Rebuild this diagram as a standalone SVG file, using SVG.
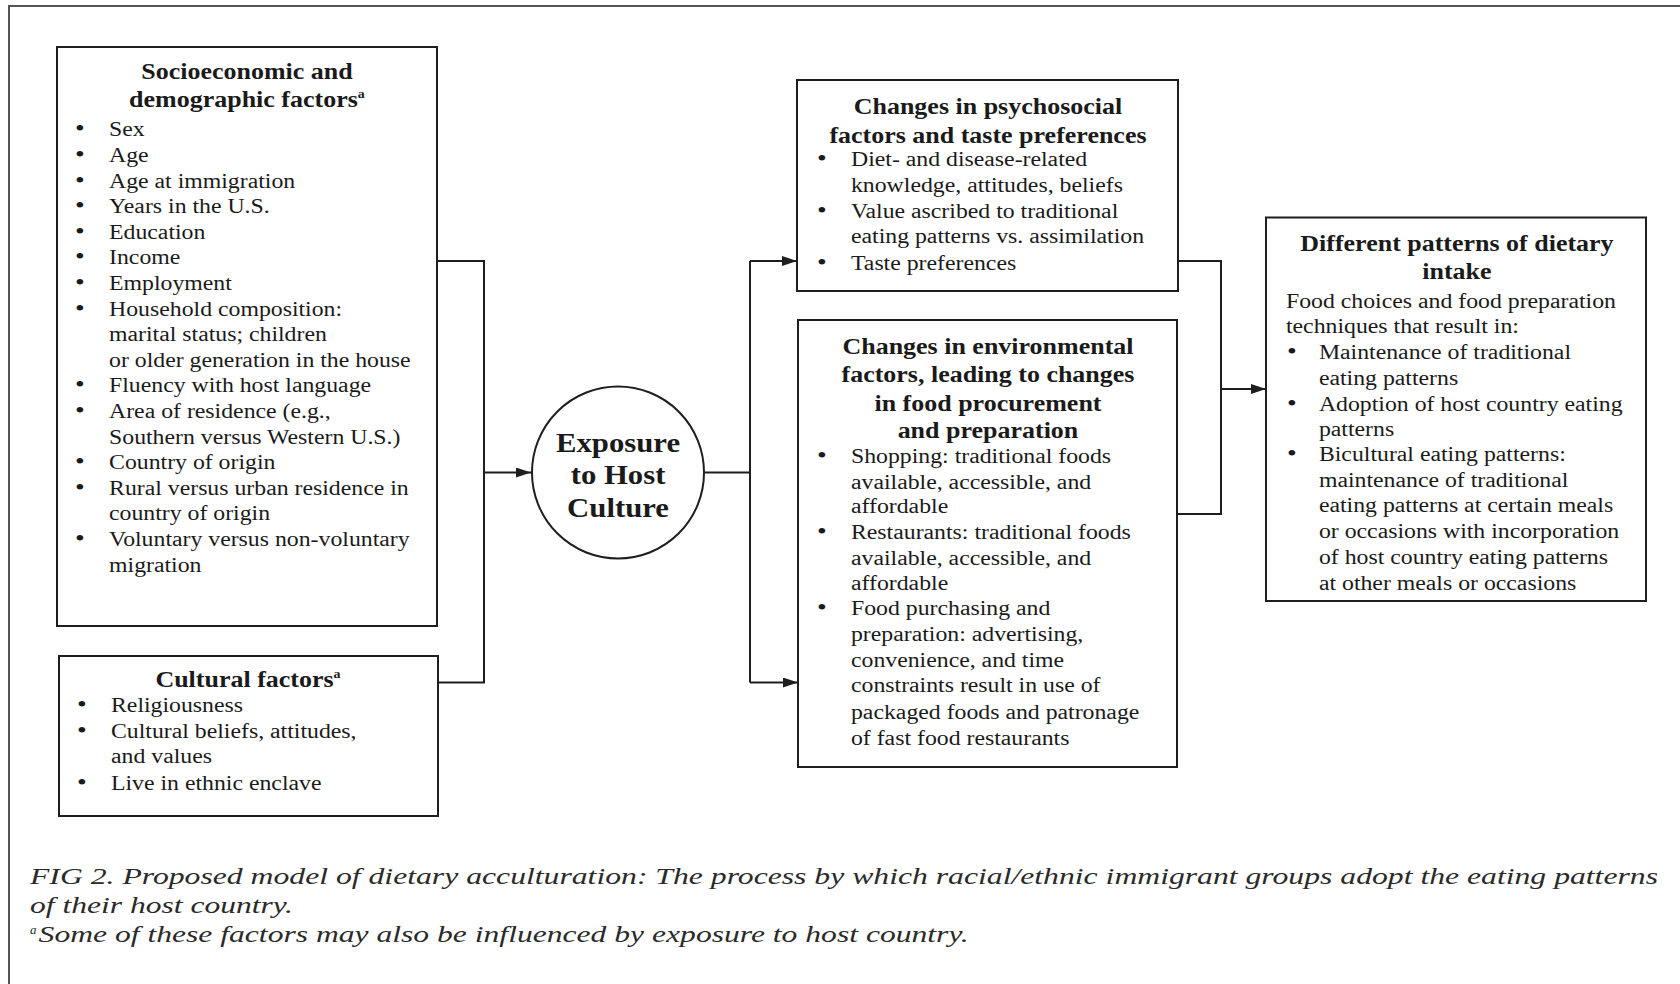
<svg xmlns="http://www.w3.org/2000/svg" width="1680" height="984" viewBox="0 0 1680 984">
<style>
.box{fill:#fff;stroke:#1e1e1e;stroke-width:2}
.t{font-family:"Liberation Serif","Times New Roman",serif;font-size:20.5px;fill:#1a1a1a}
.b{font-size:24px}
.h{font-family:"Liberation Serif","Times New Roman",serif;font-size:22.4px;font-weight:bold;fill:#1a1a1a;text-anchor:middle}
.c{font-family:"Liberation Serif","Times New Roman",serif;font-size:26.5px;font-weight:bold;fill:#1a1a1a;text-anchor:middle}
.cap{font-family:"Liberation Serif","Times New Roman",serif;font-style:italic;font-size:23px;fill:#2a2a2a}
.ln{fill:none;stroke:#1e1e1e;stroke-width:2}
</style>
<defs>
<marker id="ah" markerUnits="userSpaceOnUse" markerWidth="16" markerHeight="12" refX="15" refY="5" orient="auto">
<path d="M0,0 L15,5 L0,10 z" fill="#1e1e1e"/>
</marker>
</defs>
<rect width="1680" height="984" fill="#fff"/>
<rect x="9" y="6" width="1700" height="1000" fill="none" stroke="#555" stroke-width="2"/>

<g id="connectors">
<path class="ln" d="M437,261 H484 V682.5 H438"/>
<path class="ln" d="M484,472.5 H531" marker-end="url(#ah)"/>
<path class="ln" d="M704,472.5 H750"/>
<path class="ln" d="M750,261 V682.5"/>
<path class="ln" d="M750,261 H797" marker-end="url(#ah)"/>
<path class="ln" d="M750,682.5 H798" marker-end="url(#ah)"/>
<path class="ln" d="M1178,261 H1221 V514 H1177"/>
<path class="ln" d="M1221,389 H1266" marker-end="url(#ah)"/>
</g>

<g id="socio">
<rect class="box" x="57" y="47" width="380" height="579"/>
<g transform="translate(0,1.5) scale(1.16,1)">
<text class="h" x="212.9" y="78">Socioeconomic and</text>
<text class="h" x="212.9" y="106">demographic factors<tspan font-size="12" dy="-9">a</tspan></text>
<g class="t">
<text class="b" x="64.6" y="135">•</text><text x="94" y="135">Sex</text>
<text class="b" x="64.6" y="160.6">•</text><text x="94" y="160.6">Age</text>
<text class="b" x="64.6" y="186.2">•</text><text x="94" y="186.2">Age at immigration</text>
<text class="b" x="64.6" y="211.8">•</text><text x="94" y="211.8">Years in the U.S.</text>
<text class="b" x="64.6" y="237.4">•</text><text x="94" y="237.4">Education</text>
<text class="b" x="64.6" y="263">•</text><text x="94" y="263">Income</text>
<text class="b" x="64.6" y="288.6">•</text><text x="94" y="288.6">Employment</text>
<text class="b" x="64.6" y="314.2">•</text><text x="94" y="314.2">Household composition:</text>
<text x="94" y="339.8">marital status; children</text>
<text x="94" y="365.4">or older generation in the house</text>
<text class="b" x="64.6" y="391">•</text><text x="94" y="391">Fluency with host language</text>
<text class="b" x="64.6" y="416.6">•</text><text x="94" y="416.6">Area of residence (e.g.,</text>
<text x="94" y="442.2">Southern versus Western U.S.)</text>
<text class="b" x="64.6" y="467.8">•</text><text x="94" y="467.8">Country of origin</text>
<text class="b" x="64.6" y="493.4">•</text><text x="94" y="493.4">Rural versus urban residence in</text>
<text x="94" y="519">country of origin</text>
<text class="b" x="64.6" y="544.6">•</text><text x="94" y="544.6">Voluntary versus non-voluntary</text>
<text x="94" y="570.2">migration</text>
</g>
</g>
</g>

<g id="cultural">
<rect class="box" x="59" y="656" width="379" height="160"/>
<g transform="translate(0,1.5) scale(1.16,1)">
<text class="h" x="213.8" y="686">Cultural factors<tspan font-size="12" dy="-9">a</tspan></text>
<g class="t">
<text class="b" x="66.3" y="711">•</text><text x="95.7" y="711">Religiousness</text>
<text class="b" x="66.3" y="737">•</text><text x="95.7" y="737">Cultural beliefs, attitudes,</text>
<text x="95.7" y="762">and values</text>
<text class="b" x="66.3" y="788.5">•</text><text x="95.7" y="788.5">Live in ethnic enclave</text>
</g>
</g>
</g>

<g id="exposure">
<circle cx="618" cy="472.5" r="86" fill="#fff" stroke="#1e1e1e" stroke-width="2"/>
<g transform="translate(0,1) scale(1.16,1)">
<text class="c" x="532.8" y="451">Exposure</text>
<text class="c" x="532.8" y="483">to Host</text>
<text class="c" x="532.8" y="516">Culture</text>
</g>
</g>

<g id="psychosocial">
<rect class="box" x="797" y="80" width="381" height="211"/>
<g transform="translate(0,1.5) scale(1.16,1)">
<text class="h" x="851.7" y="112.4">Changes in psychosocial</text>
<text class="h" x="851.7" y="141.4">factors and taste preferences</text>
<g class="t">
<text class="b" x="704.3" y="165">•</text><text x="733.6" y="165">Diet- and disease-related</text>
<text x="733.6" y="190.7">knowledge, attitudes, beliefs</text>
<text class="b" x="704.3" y="216.4">•</text><text x="733.6" y="216.4">Value ascribed to traditional</text>
<text x="733.6" y="242">eating patterns vs. assimilation</text>
<text class="b" x="704.3" y="269">•</text><text x="733.6" y="269">Taste preferences</text>
</g>
</g>
</g>

<g id="environmental">
<rect class="box" x="798" y="320" width="379" height="447"/>
<g transform="translate(0,1.5) scale(1.16,1)">
<text class="h" x="851.7" y="352.4">Changes in environmental</text>
<text class="h" x="851.7" y="380.3">factors, leading to changes</text>
<text class="h" x="851.7" y="409.2">in food procurement</text>
<text class="h" x="851.7" y="437">and preparation</text>
<g class="t">
<text class="b" x="704.3" y="461.8">•</text><text x="733.6" y="461.8">Shopping: traditional foods</text>
<text x="733.6" y="487.5">available, accessible, and</text>
<text x="733.6" y="512">affordable</text>
<text class="b" x="704.3" y="537.8">•</text><text x="733.6" y="537.8">Restaurants: traditional foods</text>
<text x="733.6" y="563.6">available, accessible, and</text>
<text x="733.6" y="588.2">affordable</text>
<text class="b" x="704.3" y="614">•</text><text x="733.6" y="614">Food purchasing and</text>
<text x="733.6" y="639.6">preparation: advertising,</text>
<text x="733.6" y="665.3">convenience, and time</text>
<text x="733.6" y="691">constraints result in use of</text>
<text x="733.6" y="717.8">packaged foods and patronage</text>
<text x="733.6" y="743.6">of fast food restaurants</text>
</g>
</g>
</g>

<g id="dietary">
<rect class="box" x="1266" y="217.5" width="380" height="383.5"/>
<g transform="translate(0,1.5) scale(1.16,1)">
<text class="h" x="1256" y="249.6">Different patterns of dietary</text>
<text class="h" x="1256" y="277.4">intake</text>
<g class="t">
<text x="1108.6" y="306.4">Food choices and food preparation</text>
<text x="1108.6" y="332">techniques that result in:</text>
<text class="b" x="1109.5" y="357.9">•</text><text x="1137" y="357.9">Maintenance of traditional</text>
<text x="1137" y="383.6">eating patterns</text>
<text class="b" x="1109.5" y="409.3">•</text><text x="1137" y="409.3">Adoption of host country eating</text>
<text x="1137" y="435">patterns</text>
<text class="b" x="1109.5" y="459.6">•</text><text x="1137" y="459.6">Bicultural eating patterns:</text>
<text x="1137" y="485.3">maintenance of traditional</text>
<text x="1137" y="511">eating patterns at certain meals</text>
<text x="1137" y="536.8">or occasions with incorporation</text>
<text x="1137" y="562.5">of host country eating patterns</text>
<text x="1137" y="588.2">at other meals or occasions</text>
</g>
</g>
</g>

<g id="caption" class="cap">
<text x="30" y="884" textLength="1628" lengthAdjust="spacingAndGlyphs">FIG 2. Proposed model of dietary acculturation: The process by which racial/ethnic immigrant groups adopt the eating patterns</text>
<text x="30" y="913" textLength="263" lengthAdjust="spacingAndGlyphs">of their host country.</text>
<text x="30" y="942"><tspan font-size="13" dy="-8">a</tspan><tspan x="38.6" dy="8" textLength="930" lengthAdjust="spacingAndGlyphs">Some of these factors may also be influenced by exposure to host country.</tspan></text>
</g>
</svg>
